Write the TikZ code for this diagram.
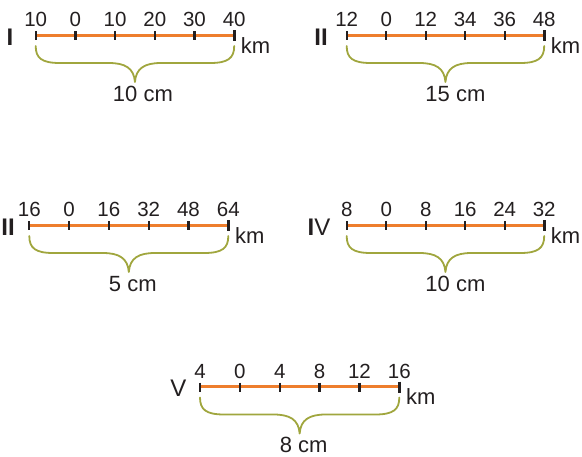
\documentclass[tikz,border=0pt]{standalone}
\usepackage{fontspec}
\setmainfont{Liberation Sans}
\usetikzlibrary{calc}
\definecolor{barorange}{RGB}{238,126,45}
\definecolor{braceolive}{RGB}{160,166,62}
\definecolor{inkdark}{RGB}{35,31,32}
\tikzset{
  numlab/.style={anchor=base,inner sep=0pt,text=inkdark,font=\fontsize{20.5}{21}\selectfont},
  unitlab/.style={anchor=base west,inner sep=0pt,text=inkdark,font=\fontsize{22}{23}\selectfont},
  cmlab/.style={anchor=base,inner sep=0pt,text=inkdark,font=\fontsize{22}{23}\selectfont},
  romanlab/.style={anchor=center,inner sep=0pt,text=inkdark,font=\fontsize{24}{25}\selectfont\bfseries},
  tickmark/.style={draw=inkdark,line width=2.3pt},
  barline/.style={draw=barorange,line width=3pt},
  bracepath/.style={draw=braceolive,line width=1.8pt,line cap=round,line join=round},
}
% #1 name, #2 x0, #3 step, #4 line y, #5 labels, #6 roman, #7 roman x, #8 cm text, #9 cm x offset
\newcommand{\myscalebar}[9]{%
  \pgfmathsetmacro\xa{#2}%
  \pgfmathsetmacro\xb{#2+5*#3}%
  \pgfmathsetmacro\xm{(\xa+\xb)/2}%
  \foreach \v [count=\i from 0] in {#5} {
    \coordinate (#1t\i) at ({#2+\i*#3},#4);
    \node[numlab] (#1n\i) at ({#2+\i*#3},#4-8.5) {\v};
  }
  \draw[barline] (#1t0) -- (#1t5);
  \foreach \i in {0,...,5} {
    \draw[tickmark] ($(#1t\i)+(0,-4)$) -- ($(#1t\i)+(0,5)$);
  }
  \draw[tickmark,line width=3pt] ($(#1t5)+(0,-5)$) -- ($(#1t5)+(0,6)$);
  \node[romanlab] (#1r) at (#7,#4+2) {#6};
  \node[unitlab] (#1km) at ($(#1t5)+(6.5,18)$) {km};
  \coordinate (#1bl) at (\xa,#4+11);
  \coordinate (#1br) at (\xb,#4+11);
  \coordinate (#1tip) at (\xm,#4+47);
  \draw[bracepath] (#1bl) .. controls (\xa,#4+23) and (\xa+6,#4+28) .. (\xa+24,#4+28)
     -- (\xm-26,#4+28) .. controls (\xm-10,#4+28) and (\xm-1,#4+33) .. (#1tip)
     .. controls (\xm+1,#4+33) and (\xm+10,#4+28) .. (\xm+26,#4+28)
     -- (\xb-24,#4+28) .. controls (\xb-6,#4+28) and (\xb,#4+23) .. (#1br);
  \node[cmlab] (#1cm) at (\xm+#9,#4+66) {#8};
}
\begin{document}
\begin{tikzpicture}[x=1pt,y=-1pt]
\useasboundingbox (0,0) rectangle (582,456);
\myscalebar{a}{35.7}{39.7}{35}{10,0,10,20,30,40}{I}{10}{10 cm}{8}
\myscalebar{b}{346.7}{39.5}{35}{12,0,12,34,36,48}{II}{321}{15 cm}{10}
\myscalebar{c}{29.3}{39.8}{225}{16,0,16,32,48,64}{II}{8}{5 cm}{4}
\myscalebar{d}{346.7}{39.5}{225}{8,0,8,16,24,32}{I\mdseries V}{319}{10 cm}{10}
\myscalebar{e}{200}{39.86}{386.5}{4,0,4,8,12,16}{\mdseries V}{178.5}{8 cm}{4}
\end{tikzpicture}
\end{document}
